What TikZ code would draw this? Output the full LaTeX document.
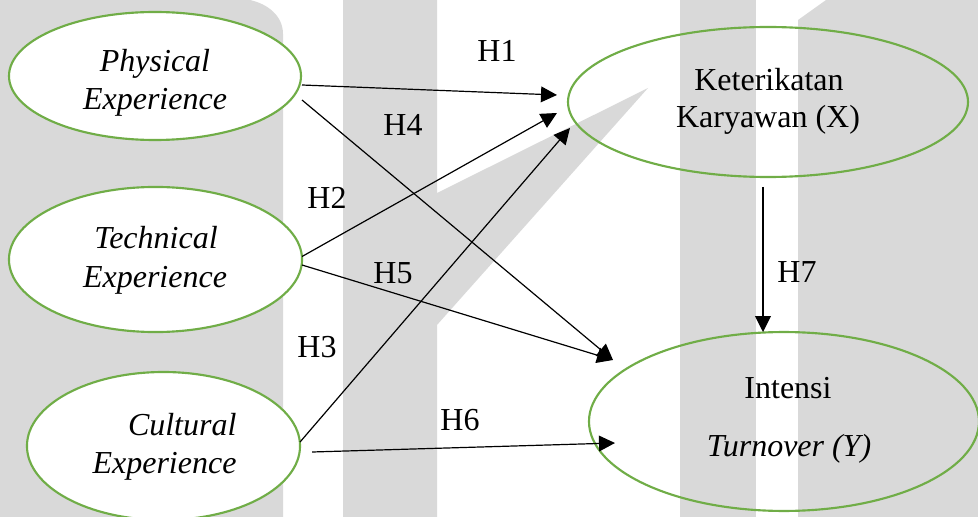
\documentclass[tikz,border=0pt]{standalone}
\usepackage{fontspec}
\setmainfont{Liberation Serif}
\usetikzlibrary{arrows.meta,shapes.geometric,calc}
\definecolor{wm}{HTML}{D9D9D9}
\definecolor{ovgreen}{HTML}{70AD47}
\begin{document}
\begin{tikzpicture}[x=0.375pt,y=-0.375pt,
  ell/.style={ellipse, draw=ovgreen, line width=0.8pt, inner sep=0pt, outer sep=0pt},
  lbl/.style={font=\fontsize{12}{14}\selectfont, inner sep=0pt, anchor=base},
  hyp/.style={font=\fontsize{12}{14}\selectfont, inner sep=0pt, anchor=center},
  conn/.style={-{Triangle[length=6pt,width=5.9pt]}, line width=0.45pt},
]
\useasboundingbox (0,0) rectangle (978,517);
% watermark
\fill[wm] (0,0) -- (250,0) .. controls (268,4) and (283,16) .. (283,34) -- (283,517) -- (0,517) -- cycle;
\fill[wm] (343,0) -- (437,0) -- (437,193) -- (648,88) -- (437,325) -- (437,517) -- (343,517) -- cycle;
\fill[wm] (680,0) rectangle (756,517);
\fill[wm] (798,20) -- (826,0) -- (978,0) -- (978,517) -- (798,517) -- cycle;
% ellipses
\node[ell, fill=white, minimum width=109.5pt, minimum height=48pt] (phys) at (155,76) {};
\node[ell, fill=white, minimum width=109.9pt, minimum height=54.4pt] (tech) at (155.5,259.5) {};
\node[ell, fill=white, minimum width=102.4pt, minimum height=55.5pt] (cult) at (163.5,446) {};
\node[ell, minimum width=150pt, minimum height=56.25pt] (ket) at (768,102) {};
\node[ell, minimum width=146.25pt, minimum height=67.1pt] (int) at (784,421.5) {};
% texts
\node[lbl] (physA) at (155,72) {\textit{Physical}};
\node[lbl] (physB) at (155,110) {\textit{Experience}};
\node[lbl] (techA) at (156,248) {\textit{Technical}};
\node[lbl] (techB) at (155,287) {\textit{Experience}};
\node[lbl, anchor=base east] (cultA) at (237,435) {\textit{Cultural}};
\node[lbl, anchor=base east] (cultB) at (237,473) {\textit{Experience}};
\node[lbl] (ketA) at (769,91) {Keterikatan};
\node[lbl] (ketB) at (768,128) {Karyawan (X)};
\node[lbl] (intA) at (788,398) {Intensi};
\node[lbl] (intB) at (789,456) {\textit{Turnover (Y)}};
% connectors
\draw[conn] ($(phys.east)+(1,9)$) -- ($(ket.west)+(-11,-7)$);
\draw[conn] ($(phys.east)+(1,24)$) -- ($(int.west)+(24,-61.5)$);
\draw[conn] ($(tech.east)+(0,-3)$) -- ($(ket.west)+(-11,11)$);
\draw[conn] ($(tech.east)+(0,5.5)$) -- ($(int.west)+(24,-61.5)$);
\draw[conn] ($(cult.east)+(0,-4)$) -- ($(ket.west)+(2,26)$);
\draw[conn] ($(cult.east)+(12,6)$) -- ($(int.west)+(26,21.5)$);
\draw[conn] ($(ket.south)+(-5,10)$) -- ($(int.north)+(-21,0)$);
% hypothesis labels
\node[hyp] (h1) at (497,51) {H1};
\node[hyp] (h4) at (403,125) {H4};
\node[hyp] (h2) at (327,198) {H2};
\node[hyp] (h5) at (393,273) {H5};
\node[hyp] (h3) at (317,347) {H3};
\node[hyp] (h6) at (460,420) {H6};
\node[hyp] (h7) at (797,272) {H7};
\end{tikzpicture}
\end{document}
